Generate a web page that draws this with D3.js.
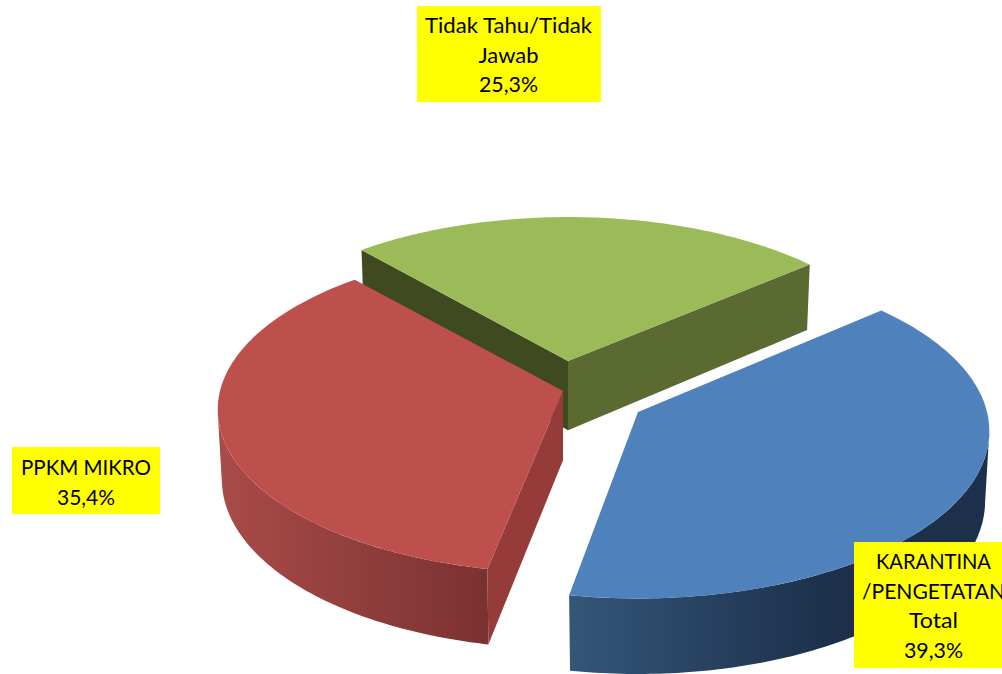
<!DOCTYPE html>
<html><head><meta charset="utf-8">
<script src="https://cdn.jsdelivr.net/npm/d3@7"></script>
<style>html,body{margin:0;padding:0;background:#fff;overflow:hidden}svg{display:block}text{font-family:Lato,"Open Sans",sans-serif;fill:#000}</style>
</head><body><svg id="c" width="1002" height="674"></svg>
<script>
const categories = ["KARANTINA /PENGETATAN Total", "PPKM MIKRO", "Tidak Tahu/Tidak Jawab"];
const values = [39.3, 35.4, 25.3];
const labelLines = [["KARANTINA", "/PENGETATAN", "Total", "39,3%"], ["PPKM MIKRO", "35,4%"], ["Tidak Tahu/Tidak", "Jawab", "25,3%"]];
const topColors = ["#4f81bd", "#bd4f4c", "#9bbb59"];

const deg = Math.PI / 180;
const startAngle = 49.8 * deg;
const k = 0.115, m = 0.012, depth = 70;
const layout = [
  {cx: 638, cy: 412, rx: 349, ry: 165, twist: -1.2 * deg},
  {cx: 563, cy: 391, rx: 343, ry: 161, twist: 0},
  {cx: 568, cy: 361, rx: 340, ry: 160.5, twist: 0}
];
const boxes = [
  {x: 854, y: 542, w: 148, h: 126, tx: 933.5, base: 569, step: 29.6, widths: [115, 143, 49, 59]},
  {x: 12, y: 447, w: 148, h: 67, tx: 86, base: 475, step: 29.5, widths: [130, 58]},
  {x: 417, y: 6, w: 184, h: 96, tx: 508.5, base: 33, step: 29.5, widths: [167, 60, 59]}
];

const svg = d3.select("#c");
const defs = svg.append("defs");
function grad(id, x1, x2, stops) {
  const g = defs.append("linearGradient").attr("id", id).attr("gradientUnits", "userSpaceOnUse")
    .attr("x1", x1).attr("x2", x2).attr("y1", 0).attr("y2", 0);
  stops.forEach(s => g.append("stop").attr("offset", s[0]).attr("stop-color", s[1]));
}
grad("redWall", 220, 487, [[0, "#a94b49"], [1, "#7a3231"]]);
grad("blueWall", 570, 830, [[0, "#345679"], [1, "#1c304b"]]);

const arcs = d3.pie().sort(null).startAngle(startAngle).endAngle(startAngle + 2 * Math.PI)(values);

// perspective projection of a unit-disc point at angle a, radius r, level w (0 top, 1 bottom)
function project(l, a, r, w) {
  const t = a + l.twist;
  const u = Math.sin(t) * r, v = -Math.cos(t) * r;
  const s = 1 / (1 - k * v + m * w);
  return [l.cx + l.rx * u * s, l.cy + (l.ry * v + depth * w) * s];
}
const line = d3.line().x(d => d[0]).y(d => d[1]);
const steps = (a0, a1) => d3.range(0, 101).map(i => a0 + (a1 - a0) * i / 100);
const poly = pts => line(pts) + "Z";

function topPath(l, d) {
  return poly([project(l, 0, 0, 0), ...steps(d.startAngle, d.endAngle).map(a => project(l, a, 1, 0))]);
}
function outerWall(l, a0, a1) {
  const as = steps(a0, a1);
  return poly([...as.map(a => project(l, a, 1, 0)), ...as.slice().reverse().map(a => project(l, a, 1, 1))]);
}
function innerWall(l, a) {
  return poly([project(l, 0, 0, 0), project(l, a, 1, 0), project(l, a, 1, 1), project(l, 0, 0, 1)]);
}
const draw = (p, fill) => svg.append("path").attr("d", p).attr("fill", fill);

// green (back)
draw(innerWall(layout[2], arcs[2].startAngle), "#3f4a21");
draw(innerWall(layout[2], arcs[2].endAngle), "#5a6a31");
draw(topPath(layout[2], arcs[2]), topColors[2]);
// red: the outer wall stops at the left silhouette
draw(outerWall(layout[1], arcs[1].startAngle, 262 * deg), "url(#redWall)");
draw(innerWall(layout[1], arcs[1].startAngle), "#953c3a");
draw(topPath(layout[1], arcs[1]), topColors[1]);
// blue (front): the outer wall starts at the right silhouette
draw(outerWall(layout[0], 98 * deg, arcs[0].endAngle), "url(#blueWall)");
draw(topPath(layout[0], arcs[0]), topColors[0]);

// labels
boxes.forEach((b, i) => {
  svg.append("rect").attr("x", b.x).attr("y", b.y).attr("width", b.w).attr("height", b.h).attr("fill", "#ffff00");
  labelLines[i].forEach((t, j) => {
    svg.append("text").attr("x", b.tx).attr("y", b.base + j * b.step)
      .attr("text-anchor", "middle").attr("font-size", 21.5)
      .attr("textLength", b.widths[j]).attr("lengthAdjust", "spacingAndGlyphs").text(t);
  });
});
</script></body></html>
